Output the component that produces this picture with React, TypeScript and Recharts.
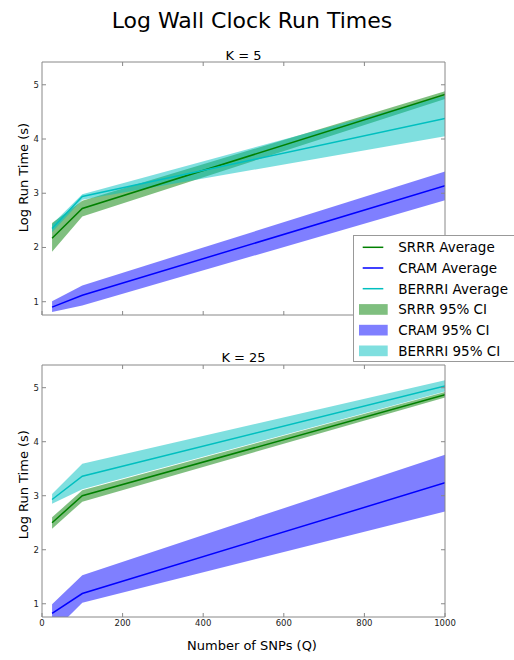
import { ComposedChart, Area, Line, XAxis, YAxis, ReferenceLine } from "recharts";

// number of SNPs (Q) on the x axis
const snps = [25, 100, 1000];

// K = 5
const srrr5Avg = [2.17, 2.72, 4.82];
const srrr5Lo = [1.92, 2.57, 4.74];
const srrr5Hi = [2.45, 2.86, 4.88];
const cram5Avg = [0.9, 1.12, 3.14];
const cram5Lo = [0.81, 0.93, 2.87];
const cram5Hi = [1.01, 1.3, 3.4];
const berrri5Avg = [2.35, 2.94, 4.38];
const berrri5Lo = [2.28, 2.88, 4.05];
const berrri5Hi = [2.43, 2.98, 4.8];

// K = 25
const srrr25Avg = [2.5, 3.0, 4.87];
const srrr25Lo = [2.39, 2.89, 4.82];
const srrr25Hi = [2.6, 3.1, 4.92];
const cram25Avg = [0.82, 1.19, 3.24];
const cram25Lo = [0.46, 1.02, 2.71];
const cram25Hi = [0.99, 1.53, 3.76];
const berrri25Avg = [2.93, 3.36, 5.03];
const berrri25Lo = [2.85, 3.12, 4.93];
const berrri25Hi = [3.03, 3.59, 5.14];

const xTicks = [0, 200, 400, 600, 800, 1000];
const yTicks = [1, 2, 3, 4, 5];
const Y_MIN = 0.755;
const Y_MAX = 5.42;

const GREEN = "#008000";
const BLUE = "#0000ff";
const CYAN = "#00bfbf";
const FONT = "DejaVu Sans";
const SPINE = "#888";

const buildRows = (
  sAvg: number[], sLo: number[], sHi: number[],
  cAvg: number[], cLo: number[], cHi: number[],
  bAvg: number[], bLo: number[], bHi: number[]
) =>
  snps.map((q, i) => ({
    q,
    srrr: sAvg[i], srrrCI: [sLo[i], sHi[i]],
    cram: cAvg[i], cramCI: [cLo[i], cHi[i]],
    berrri: bAvg[i], berrriCI: [bLo[i], bHi[i]],
  }));

const data5 = buildRows(srrr5Avg, srrr5Lo, srrr5Hi, cram5Avg, cram5Lo, cram5Hi, berrri5Avg, berrri5Lo, berrri5Hi);
const data25 = buildRows(srrr25Avg, srrr25Lo, srrr25Hi, cram25Avg, cram25Lo, cram25Hi, berrri25Avg, berrri25Lo, berrri25Hi);

// ticks point inward, like matplotlib classic
const LeftTick = (p: any) => (
  <g>
    <line x1={p.x} x2={p.x + 4} y1={p.y} y2={p.y} stroke={SPINE} />
    <text x={p.x - 3} y={p.y} dy="0.35em" textAnchor="end" fontSize={8.5} fontFamily={FONT} fill="#222">
      {p.payload.value}
    </text>
  </g>
);
const BottomTick = (showLabel: boolean) => (p: any) => (
  <g>
    <line x1={p.x} x2={p.x} y1={p.y} y2={p.y - 4} stroke={SPINE} />
    {showLabel && (
      <text x={p.x} y={p.y + 9} textAnchor="middle" fontSize={8.5} fontFamily={FONT} fill="#222">
        {p.payload.value}
      </text>
    )}
  </g>
);

function Panel({ data, height, margin, showX }: { data: any[]; height: number; margin: any; showX: boolean }) {
  return (
    <ComposedChart width={514} height={height} data={data} margin={margin}>
      <XAxis dataKey="q" type="number" domain={[0, 1000]} ticks={xTicks} allowDataOverflow
        height={1} tickSize={0} tickMargin={0} stroke={SPINE} tick={BottomTick(showX)} />
      <YAxis type="number" domain={[Y_MIN, Y_MAX]} ticks={yTicks} allowDataOverflow
        width={1} tickSize={0} tickMargin={0} stroke={SPINE} tick={LeftTick} />
      <Area dataKey="srrrCI" type="linear" stroke="none" fill={GREEN} fillOpacity={0.5} dot={false} activeDot={false} isAnimationActive={false} />
      <Area dataKey="cramCI" type="linear" stroke="none" fill={BLUE} fillOpacity={0.5} dot={false} activeDot={false} isAnimationActive={false} />
      <Area dataKey="berrriCI" type="linear" stroke="none" fill={CYAN} fillOpacity={0.5} dot={false} activeDot={false} isAnimationActive={false} />
      <Line dataKey="srrr" type="linear" stroke={GREEN} strokeWidth={1.5} dot={false} activeDot={false} isAnimationActive={false} />
      <Line dataKey="cram" type="linear" stroke={BLUE} strokeWidth={1.5} dot={false} activeDot={false} isAnimationActive={false} />
      <Line dataKey="berrri" type="linear" stroke={CYAN} strokeWidth={1.5} dot={false} activeDot={false} isAnimationActive={false} />
      {/* top and right spines with inward ticks */}
      <ReferenceLine x={1000} stroke={SPINE} ifOverflow="visible" />
      <ReferenceLine y={Y_MAX} stroke={SPINE} ifOverflow="visible" />
      {yTicks.map((t) => (
        <ReferenceLine key={"r" + t} segment={[{ x: 990, y: t }, { x: 1000, y: t }]} stroke={SPINE} ifOverflow="visible" />
      ))}
      {xTicks.slice(1, -1).map((t) => (
        <ReferenceLine key={"t" + t} segment={[{ x: t, y: Y_MAX }, { x: t, y: Y_MAX - 0.074 }]} stroke={SPINE} ifOverflow="visible" />
      ))}
    </ComposedChart>
  );
}

const legendRows = [
  { label: "SRRR Average", color: GREEN, kind: "line" },
  { label: "CRAM Average", color: BLUE, kind: "line" },
  { label: "BERRRI Average", color: CYAN, kind: "line" },
  { label: "SRRR 95% CI", color: GREEN, kind: "patch" },
  { label: "CRAM 95% CI", color: BLUE, kind: "patch" },
  { label: "BERRRI 95% CI", color: CYAN, kind: "patch" },
];

export default function App() {
  return (
    <div style={{ position: "absolute", left: 0, top: 0, width: 514, height: 660, overflow: "hidden", background: "#fff" }}>
      <div style={{ position: "absolute", left: 0, top: 0 }}>
        <Panel data={data5} height={335} margin={{ top: 62, left: 41, right: 69, bottom: 19 }} showX={false} />
      </div>
      <div style={{ position: "absolute", left: 0, top: 340 }}>
        <Panel data={data25} height={320} margin={{ top: 25, left: 41, right: 69, bottom: 42 }} showX={true} />
      </div>
      <svg width={514} height={660} style={{ position: "absolute", left: 0, top: 0, pointerEvents: "none" }} fontFamily={FONT}>
        <text x={252} y={28} textAnchor="middle" fontSize={22}>Log Wall Clock Run Times</text>
        <text x={243.5} y={60} textAnchor="middle" fontSize={13}>K = 5</text>
        <text x={243.5} y={362} textAnchor="middle" fontSize={13}>K = 25</text>
        <text transform="translate(28,177.5) rotate(-90)" textAnchor="middle" fontSize={13}>Log Run Time (s)</text>
        <text transform="translate(28,484.7) rotate(-90)" textAnchor="middle" fontSize={13}>Log Run Time (s)</text>
        <text x={252} y={650} textAnchor="middle" fontSize={13}>Number of SNPs (Q)</text>
        <g>
          <rect x={353.5} y={235.5} width={175} height={126} fill="#fff" stroke="#999" />
          {legendRows.map((r, i) => {
            const cy = 247.3 + i * 20.7;
            return (
              <g key={r.label}>
                {r.kind === "line" ? (
                  <line x1={362.7} x2={383.3} y1={cy} y2={cy} stroke={r.color} strokeWidth={1.5} />
                ) : (
                  <rect x={359} y={cy - 5.3} width={28.7} height={10.7} fill={r.color} fillOpacity={0.5} />
                )}
                <text x={398.3} y={cy} dy="0.36em" fontSize={13.5}>{r.label}</text>
              </g>
            );
          })}
        </g>
      </svg>
    </div>
  );
}
